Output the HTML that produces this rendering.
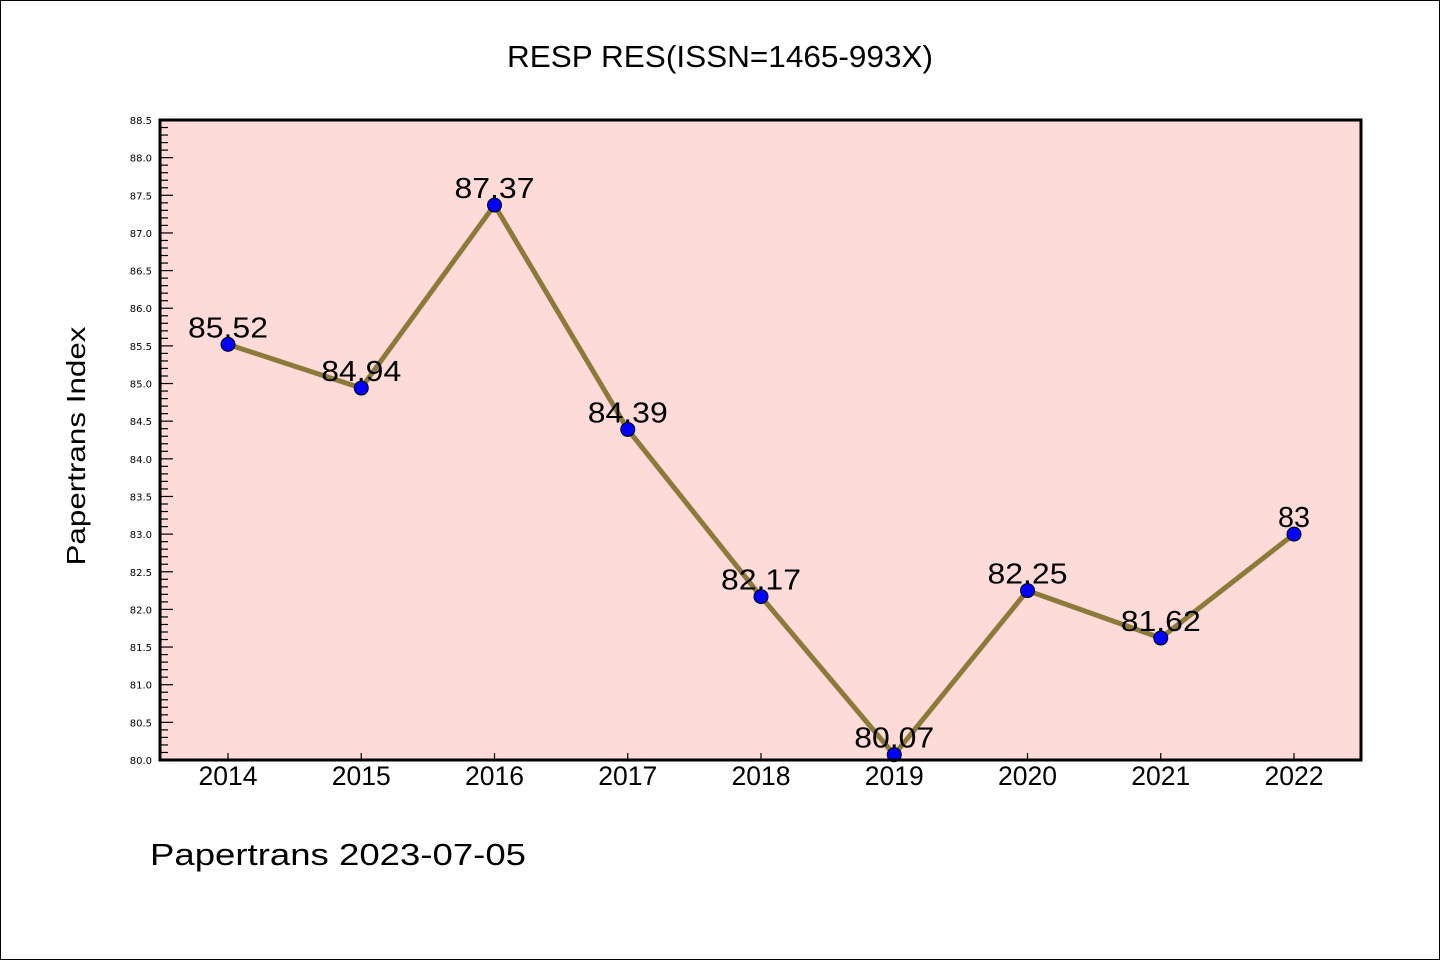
<!DOCTYPE html>
<html><head><meta charset="utf-8"><style>
html,body{margin:0;padding:0;background:#fff}
svg{display:block}
text{font-family:"Liberation Sans","WenQuanYi Zen Hei",sans-serif;fill:#000}
.yt{font-family:"DejaVu Sans",sans-serif}
</style></head><body>
<svg width="1440" height="960">
<rect x="0.5" y="0.5" width="1439" height="959" fill="#fff" stroke="#000"/>
<text x="720" y="67" font-size="31" text-anchor="middle" textLength="426" lengthAdjust="spacingAndGlyphs">RESP RES(ISSN=1465-993X)</text>
<rect x="160" y="120" width="1201" height="640" fill="#fddbd8"/>
<g id="yaxis"></g>
<g id="xaxis"></g>
<g id="series"></g>
<rect x="160" y="120" width="1201" height="640" fill="none" stroke="#000" stroke-width="3"/>
<text transform="translate(85,446) rotate(-90)" font-size="26" text-anchor="middle" textLength="239" lengthAdjust="spacingAndGlyphs">Papertrans Index</text>
<text x="150" y="865" font-size="31" textLength="376" lengthAdjust="spacingAndGlyphs">Papertrans 2023-07-05</text>
</svg>
<script>
const categories=["2014","2015","2016","2017","2018","2019","2020","2021","2022"];
const values=[85.52,84.94,87.37,84.39,82.17,80.07,82.25,81.62,83];
const valueLabels=["85.52","84.94","87.37","84.39","82.17","80.07","82.25","81.62","83"];
const yTicks=["80.0","80.5","81.0","81.5","82.0","82.5","83.0","83.5","84.0","84.5","85.0","85.5","86.0","86.5","87.0","87.5","88.0","88.5"];
const NS="http://www.w3.org/2000/svg";
const yMin=80,yMax=88.5,plotTop=120,plotBot=760,plotLeft=160;
function y(v){return plotBot-(v-yMin)/(yMax-yMin)*(plotBot-plotTop);}
function x(i){return 228+i*(1294-228)/(categories.length-1);}
function mk(t,a,p){const e=document.createElementNS(NS,t);for(const k in a)e.setAttribute(k,a[k]);p.appendChild(e);return e;}
const ya=document.getElementById('yaxis');
for(let k=0;k<=85;k++){const v=yMin+k*0.1;const major=k%5===0;
 const l=mk('line',{x1:plotLeft,x2:plotLeft+(major?13:8),y1:y(v),y2:y(v),stroke:'#000','stroke-width':1.2},ya);
 
 }
yTicks.forEach(s=>{const t=mk('text',{x:152,y:y(parseFloat(s))+4,'font-size':10,'text-anchor':'end','class':'yt'},ya);t.textContent=s;
 
 });
const xa=document.getElementById('xaxis');
categories.forEach((c,i)=>{const l=mk('line',{x1:x(i),x2:x(i),y1:plotBot,y2:plotBot-7,stroke:'#000','stroke-width':1.2},xa);
 
 
 const t=mk('text',{x:x(i),y:785,'font-size':27,'text-anchor':'middle',textLength:59,lengthAdjust:'spacingAndGlyphs'},xa);t.textContent=c;
 
 });
const sg=document.getElementById('series');
const pl=mk('polyline',{points:values.map((v,i)=>x(i)+','+y(v)).join(' '),fill:'none',stroke:'#8c7a3a','stroke-width':5,'stroke-linejoin':'round'},sg);


values.forEach((v,i)=>{const c=mk('circle',{cx:x(i),cy:y(v),r:7,fill:'#0000ff',stroke:'#000','stroke-width':1},sg);
 
 });
values.forEach((v,i)=>{const s=valueLabels[i];const t=mk('text',{x:x(i),y:y(v)-7,'font-size':29,'text-anchor':'middle',textLength:s.length*16,lengthAdjust:'spacingAndGlyphs'},sg);t.textContent=s;
 
 });
</script>
</body></html>
